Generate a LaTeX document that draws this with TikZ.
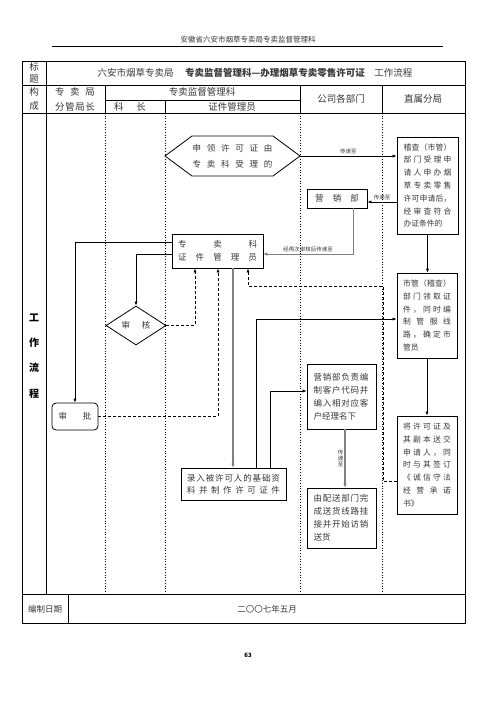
\documentclass[tikz,border=0pt]{standalone}
\usepackage{fontspec}
\setmainfont{Noto Sans CJK SC}
\usetikzlibrary{arrows.meta,shapes.geometric,calc}
\def\sprA#1{#1\futurelet\sprNext\sprB}
\def\sprB{\ifx\sprNext\relax\expandafter\sprEnd\else\hfill\expandafter\sprA\fi}
\def\sprEnd\relax{}
\newcommand\spr[2]{\makebox[#1][l]{\sprA#2\relax}}
\definecolor{tx}{gray}{0.22}
\definecolor{gline}{gray}{0.5}
\begin{document}
\begin{tikzpicture}[x=1pt,y=-1pt,
  tl/.style={line width=0.8pt},
  lane/.style={dotted,line width=0.7pt},
  txt/.style={text=tx,inner sep=0pt},
  hdr/.style={txt,font=\fontsize{9.5}{12.5}\selectfont,align=center},
  bx/.style={draw,line width=0.8pt,inner sep=0pt,text=tx,align=left},
  rtext/.style={font=\fontsize{7.8}{12.8}\selectfont,text width=48pt},
  mtext/.style={font=\fontsize{8.5}{13}\selectfont},
  arr/.style={line width=0.7pt,-{Latex[length=4pt,width=3.2pt]}},
  garr/.style={line width=1.3pt,draw=gline,-{Latex[length=4pt,width=3.6pt]}},
  darr/.style={line width=0.8pt,dash pattern=on 3pt off 2pt,-{Latex[length=4pt,width=3.2pt]}},
  lbl/.style={txt,font=\fontsize{5.5}{6}\selectfont}]
\useasboundingbox (0,0) rectangle (496,702);
\fill[white] (0,0) rectangle (496,702);
% page header
\node[txt,font=\fontsize{7.5}{9}\selectfont] (hd) at (248,40) {安徽省六安市烟草专卖局专卖监督管理科};
\draw[line width=0.8pt] (52,46) -- (443,46);
% table frame
\draw[line width=1pt] (22,61) rectangle (465,623);
\draw[tl] (22,85) -- (465,85);
\draw[tl] (22,113) -- (465,113);
\draw[tl] (22,594) -- (465,594);
\draw[tl] (46,61) -- (46,594);
\draw[tl] (105,85) -- (105,113);
\draw[tl] (165,100) -- (165,113);
\draw[tl] (300,85) -- (300,113);
\draw[tl] (382,85) -- (382,113);
\draw[tl] (105,100) -- (300,100);
\draw[tl] (68,594) -- (68,623);
\draw[lane] (105,113) -- (105,594);
\draw[lane] (165,113) -- (165,594);
\draw[lane] (300,113) -- (300,594);
\draw[lane] (382,113) -- (382,594);
% header texts
\node[hdr] (t1) at (34,73) {标\\题};
\node[hdr] (t2) at (255,73) {六安市烟草专卖局\hspace{1.2em}\textbf{专卖监督管理科—办理烟草专卖零售许可证}\hspace{1em}工作流程};
\node[hdr] (t3) at (34,99) {构\\[2pt]成};
\node[hdr] (t4) at (75,99.5) {\spr{40pt}{专卖局}\\[2pt]\spr{40pt}{分管局长}};
\node[hdr] (t5) at (202,92) {专卖监督管理科};
\node[hdr] (t6) at (130,107) {\spr{32pt}{科长}};
\node[hdr] (t7) at (232,107) {证件管理员};
\node[hdr] (t8) at (341,99) {公司各部门};
\node[hdr] (t9) at (423,99) {直属分局};
% side label
\node[txt,font=\fontsize{10}{10}\selectfont\bfseries,text=black] (w1) at (34,318) {工};
\node[txt,font=\fontsize{10}{10}\selectfont\bfseries,text=black] (w2) at (34,343) {作};
\node[txt,font=\fontsize{10}{10}\selectfont\bfseries,text=black] (w3) at (34,368) {流};
\node[txt,font=\fontsize{10}{10}\selectfont\bfseries,text=black] (w4) at (34,394) {程};
% footer
\node[txt,font=\fontsize{8.5}{10}\selectfont] (f1) at (45,609) {编制日期};
\node[txt,font=\fontsize{8.5}{10}\selectfont] (f2) at (267,609) {二〇〇七年五月};
\node[txt,font=\fontsize{6}{7}\selectfont\bfseries,text=black] (pg) at (248,655) {63};
% hexagon
\draw[line width=0.8pt] (165,156) -- (192,136) -- (273,136) -- (300,156) -- (273,176) -- (192,176) -- cycle;
\node[txt,minimum width=135pt,minimum height=40pt,align=center,font=\fontsize{8.5}{16}\selectfont] (hex) at (232.5,156) {\spr{80pt}{申领许可证由}\\\spr{80pt}{专卖科受理的}};
% boxes
\node[bx,rtext,minimum width=61pt,minimum height=97pt] (jc) at (427.5,185.5)
 {\spr{48pt}{稽查（市管）}\\\spr{48pt}{部门受理申}\\\spr{48pt}{请人申办烟}\\\spr{48pt}{草专卖零售}\\\spr{48pt}{许可申请后，}\\\spr{48pt}{经审查符合}\\办证条件的};
\node[bx,mtext,minimum width=60pt,minimum height=19pt,align=center] (yxb) at (337,198.5) {\spr{44pt}{营销部}};
\node[bx,mtext,minimum width=91pt,minimum height=34pt,align=center] (zmk) at (217.5,251) {\spr{79pt}{专卖科}\\\spr{79pt}{证件管理员}};
\node[draw,diamond,line width=0.8pt,inner sep=0pt,minimum width=60pt,minimum height=39pt,text=tx,font=\fontsize{8.5}{10}\selectfont] (sh) at (136,325.5) {\spr{29pt}{审核}};
\node[bx,rounded corners=4pt,mtext,minimum width=46pt,minimum height=27pt,align=center] (sp) at (75,416.5) {\spr{33pt}{审批}};
\node[bx,rtext,minimum width=60pt,minimum height=85pt] (sg) at (427,315.5)
 {\spr{48pt}{市管（稽查）}\\\spr{48pt}{部门领取证}\\\spr{48pt}{件，同时编}\\\spr{48pt}{制管服线}\\\spr{48pt}{路，确定市}\\管员};
\node[bx,mtext,text width=56pt,minimum width=69pt,minimum height=65pt] (yxfz) at (341.5,396.5)
 {\spr{55pt}{营销部负责编}\\\spr{55pt}{制客户代码并}\\\spr{55pt}{编入相对应客}\\户经理名下};
\node[bx,rtext,minimum width=60pt,minimum height=98pt] (jx) at (427,465)
 {\spr{48pt}{将许可证及}\\\spr{48pt}{其副本送交}\\\spr{48pt}{申请人，同}\\\spr{48pt}{时与其签订}\\\spr{48pt}{《诚信守法}\\\spr{48pt}{经营承诺}\\书》};
\node[bx,mtext,minimum width=105pt,minimum height=32pt,align=center,font=\fontsize{8.5}{12}\selectfont] (lr) at (233.5,484)
 {\spr{93pt}{录入被许可人的基础资}\\\spr{93pt}{料并制作许可证件}};
\node[bx,mtext,text width=56pt,minimum width=69pt,minimum height=60pt] (ps) at (341.5,518)
 {\spr{55pt}{由配送部门完}\\\spr{55pt}{成送货线路挂}\\\spr{55pt}{接并开始访销}\\送货};
% connectors
\draw[arr] (hex.east) -- (hex.east -| jc.west) node[lbl,midway,above=2pt] (l1) {传递至};
\draw[arr] (jc.west |- 0,202) -- (yxb.east |- 0,202) node[lbl,midway,above=2pt] (l2) {传递至};
\draw[garr,line width=1pt] (yxb.south -| 353,0) |- (zmk.east |- 0,254) node[lbl,pos=0.75,above=1.5pt] (l3) {经再次审核后传递至};
\draw[arr] (zmk.west |- 0,242) -| (sp.north);
\draw[arr] (zmk.west |- 0,254) -| (sh.north);
\draw[darr] (sh.east) -| (zmk.south -| 195,0);
\draw[darr] (sp.east) -| (zmk.south -| 218,0);
\coordinate (c1) at (383,286);
\draw[darr] (jx.west |- 0,481) -| (c1) -| (zmk.south -| 248,0);
\draw[garr] (zmk.south -| 233,0) -- (lr.north -| 233,0);
\draw[arr] (lr.north -| 256,0) |- (sg.west |- 0,319);
\draw[arr] (lr.north -| 270,0) |- (yxfz.west |- 0,391);
\draw[garr] (yxfz.south -| 345,0) -- (ps.north -| 345,0) node[lbl,midway,left=1pt,align=center] (l4) {传\\递\\至};
\draw[arr] (jc.south) -- (jc.south |- sg.north);
\draw[arr] (sg.south) -- (jx.north);
\end{tikzpicture}
\end{document}
